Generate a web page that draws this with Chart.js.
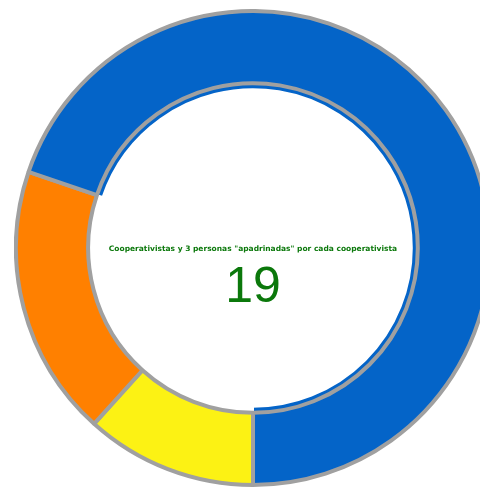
<!DOCTYPE html>
<html>
<head>
<meta charset="utf-8">
<script src="https://cdn.jsdelivr.net/npm/chart.js@4/dist/chart.umd.min.js"></script>
<style>
  html, body { margin: 0; padding: 0; background: #fff; overflow: hidden; width: 480px; height: 492px; }
  #wrap { position: absolute; left: 14px; top: 9px; width: 478px; height: 478px; }
  .centro { position: absolute; left: 0; width: 506px; text-align: center; color: #0b780b; }
  #titulo { top: 244px; font-size: 7.5px; font-weight: bold; font-family: "DejaVu Sans", Verdana, sans-serif; }
  #valor { top: 256px; font-size: 50px; font-family: "Liberation Sans", Arial, sans-serif; }
</style>
</head>
<body>
<div id="wrap"><canvas id="myChart"></canvas></div>
<div class="centro" id="titulo"></div>
<div class="centro" id="valor"></div>
<script>
/********************* datos *********************/
const categorias = ['Apadrinadas 1', 'Apadrinadas 2', 'Cooperativistas'];
const valores = [11.7, 18.5, 69.8];
const colores = ['#fcf214', '#ff8000', '#0464c8'];
const titulo = 'Cooperativistas y 3 personas "apadrinadas" por cada cooperativista';
const total = 19;

document.getElementById('titulo').innerText = titulo;
document.getElementById('valor').innerText = total;

/********************* grafico *********************/
const ctx = document.getElementById('myChart');
const myChart = new Chart(ctx, {
  type: 'doughnut',
  data: {
    labels: categorias,
    datasets: [{
      data: valores,
      backgroundColor: colores,
      borderColor: '#a0a0a0',
      borderWidth: 4,
      weight: 72
    },
    {
      // fino arco azul por dentro
      data: valores,
      backgroundColor: ['rgba(0,0,0,0)', 'rgba(0,0,0,0)', colores[2]],
      borderColor: '#ffffff',
      borderWidth: 2,
      weight: 6
    }]
  },
  options: {
    responsive: true,
    maintainAspectRatio: false,
    animation: false,
    rotation: 180,
    cutout: '67%',
    plugins: {
      legend: { display: false },
      tooltip: { enabled: false }
    }
  }
});
</script>
</body>
</html>
